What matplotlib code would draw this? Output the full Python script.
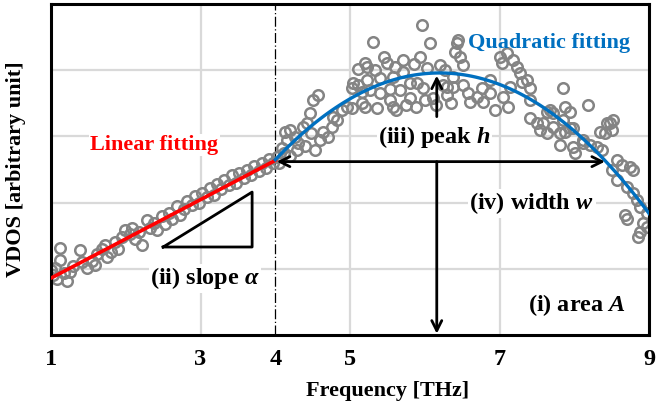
import matplotlib
matplotlib.use("Agg")
import matplotlib.pyplot as plt
import numpy as np

# 字型設定
plt.rcParams["font.family"] = ["Liberation Serif", "DejaVu Serif"]
plt.rcParams["font.weight"] = "bold"
plt.rcParams["axes.labelweight"] = "bold"
plt.rcParams["mathtext.fontset"] = "custom"
plt.rcParams["mathtext.bfit"] = "Liberation Serif:bold:italic"
plt.rcParams["mathtext.it"] = "Liberation Serif:bold:italic"
plt.rcParams["mathtext.rm"] = "Liberation Serif:bold"

# 線性區的散點 (1~4 THz)
lin_x = [1.00, 1.02, 1.05, 1.08, 1.12, 1.12, 1.18, 1.22, 1.25, 1.30, 1.39, 1.42,
         1.48, 1.55, 1.59, 1.62, 1.68, 1.72, 1.75, 1.80, 1.85, 1.90, 1.95, 1.99,
         2.05, 2.08, 2.12, 2.18, 2.22, 2.28, 2.32, 2.38, 2.42, 2.48, 2.52, 2.58,
         2.62, 2.68, 2.72, 2.78, 2.82, 2.88, 2.92, 2.98, 3.02, 3.08, 3.12, 3.18,
         3.22, 3.28, 3.32, 3.38, 3.42, 3.48, 3.52, 3.58, 3.62, 3.68, 3.72, 3.78,
         3.82, 3.88, 3.92, 3.97]
lin_y = [0.98, 0.90, 1.02, 0.84, 1.31, 1.14, 0.93, 0.82, 0.95, 1.05, 1.28, 1.10,
         1.02, 1.12, 1.06, 1.22, 1.30, 1.36, 1.18, 1.25, 1.40, 1.30, 1.48, 1.59,
         1.52, 1.62, 1.45, 1.55, 1.36, 1.74, 1.62, 1.70, 1.58, 1.80, 1.68, 1.85,
         1.75, 1.95, 1.82, 1.90, 2.02, 1.96, 2.10, 2.00, 2.15, 2.08, 2.22, 2.12,
         2.28, 2.20, 2.35, 2.26, 2.42, 2.30, 2.45, 2.38, 2.50, 2.42, 2.56, 2.48,
         2.60, 2.52, 2.66, 2.60]

# 二次區的散點 (4~9 THz)
quad_x = [4.02, 4.09, 4.13, 4.16, 4.20, 4.26, 4.29, 4.37, 4.42, 4.46, 4.50, 4.57,
          4.53, 4.60, 4.64, 4.71, 4.76, 4.77, 4.82, 4.89, 4.96, 5.03, 5.04, 5.11,
          5.16, 5.20, 5.23, 5.03, 4.05, 4.12, 4.20, 4.30, 4.40, 4.48,
          5.96, 5.31, 6.07, 5.20, 5.33, 5.49, 5.71, 5.94, 6.03, 6.20, 6.27, 5.23,
          5.40, 5.58, 5.71, 5.80, 5.90, 5.27, 5.40, 5.53, 5.67, 5.80, 5.98, 6.11,
          6.24, 6.30, 5.16, 5.36, 5.58, 5.53, 5.62, 5.75, 5.88, 6.00, 6.15, 6.30,
          6.35, 5.10, 5.45, 5.60, 5.85, 6.44,
          6.43, 6.40, 6.47, 6.51, 6.38, 6.38, 6.51, 6.58, 6.61, 6.70, 6.77, 6.78,
          6.87, 6.87, 7.01, 7.03, 7.10, 7.18, 7.23, 7.27, 7.30, 7.37, 7.41, 7.05,
          7.11, 6.94, 7.41, 7.50, 7.54, 7.64, 7.14, 7.41, 7.68, 7.85, 7.94, 8.12,
          8.30, 8.44, 8.52, 7.85,
          8.18, 7.64, 7.72, 7.88, 7.94, 7.58, 7.72, 7.81, 7.88, 7.98, 8.48, 8.51,
          8.41, 8.34, 7.81, 7.98, 8.01, 8.12, 8.21, 8.37, 8.57, 8.64, 8.75, 8.79,
          8.51, 8.57, 8.71, 8.79, 8.84, 8.68, 8.71, 8.88, 8.97, 8.92, 8.88, 8.85,
          8.97]
quad_y = [2.69, 2.82, 3.07, 2.95, 3.10, 2.99, 2.79, 3.14, 3.20, 3.35, 3.55, 3.63,
          2.79, 2.95, 3.07, 2.99, 3.14, 3.29, 3.25, 3.40, 3.44, 3.73, 3.81, 3.78,
          3.67, 3.44, 4.05, 3.43, 2.60, 2.75, 2.70, 2.90, 2.85, 3.05,
          4.68, 4.43, 4.41, 4.11, 4.00, 4.11, 4.15, 4.20, 4.03, 4.08, 4.00, 3.85,
          3.88, 3.90, 3.97, 3.81, 3.81, 3.70, 3.66, 3.72, 3.70, 3.58, 3.73, 3.58,
          3.78, 3.75, 3.50, 3.43, 3.44, 3.55, 3.40, 3.48, 3.45, 3.55, 3.48, 3.62,
          3.50, 4.02, 4.20, 4.05, 4.10, 4.46,
          4.41, 4.27, 4.20, 4.08, 3.90, 3.75, 3.78, 3.66, 3.52, 3.60, 3.73, 3.52,
          3.66, 3.85, 4.20, 4.11, 4.26, 4.15, 4.05, 3.96, 3.82, 3.85, 3.73, 3.60,
          3.44, 3.40, 3.28, 3.20, 3.10, 3.05, 3.75, 3.55, 3.40, 3.25, 3.13, 2.95,
          2.84, 3.20, 3.25, 3.73,
          3.47, 3.37, 3.35, 3.44, 3.37, 3.20, 3.14, 3.05, 3.07, 3.13, 3.20, 3.10,
          3.05, 3.07, 2.87, 2.84, 2.75, 2.90, 2.87, 2.79, 2.64, 2.57, 2.54, 2.49,
          2.49, 2.34, 2.24, 2.15, 2.04, 1.81, 1.76, 1.93, 1.84, 1.69, 1.56, 1.48,
          1.63]

# 擬合參數
lin_a = 0.593      # 斜率
lin_b = 0.86       # x=1 時的值
quad_x0 = 6.2      # 峰位置
quad_h = 3.96      # 峰高
quad_k = 0.271     # 曲率

# 畫布設定
fig = plt.figure(figsize=(6.66, 4.05), dpi=100)
ax = fig.add_axes([0.0766, 0.1728, 0.898, 0.817])

ax.plot(lin_x + quad_x, lin_y + quad_y, "o", ms=7.6, mfc="none", mec="#848484",
        mew=1.8, zorder=2)

fx1 = np.linspace(1, 4, 50)
ax.plot(fx1, lin_b + lin_a * (fx1 - 1), color="#ff0000", lw=2.6, zorder=3)
fx2 = np.linspace(4, 9, 100)
ax.plot(fx2, quad_h - quad_k * (fx2 - quad_x0) ** 2, color="#0070c0", lw=2.4, zorder=3)

# x=4 的分界線
ax.axvline(4, color="black", lw=0.9, ls=(0, (8, 2, 1, 2)), zorder=1)

# 箭頭
arw = dict(arrowstyle="->", color="black", lw=2.0, mutation_scale=18,
           shrinkA=0, shrinkB=0)
ax.annotate("", xy=(4.02, 2.62), xytext=(8.41, 2.62),
            arrowprops=dict(arw, arrowstyle="<->"), zorder=5)
ax.annotate("", xy=(6.16, 0.02), xytext=(6.16, 2.62), arrowprops=arw, zorder=5)
ax.annotate("", xy=(6.16, 3.92), xytext=(6.16, 3.30), arrowprops=arw, zorder=5)

# 斜率三角形
ax.plot([2.50, 3.69, 3.69, 2.50], [1.33, 1.33, 2.16, 1.33], color="black", lw=2.0,
        zorder=4)

# 文字
box = dict(facecolor="white", edgecolor="none", pad=1)
fs = 16    # 彩色標籤
fb = 17.5  # 黑色標籤
ax.text(2.38, 2.87, "Linear fitting", color="#ff0000", fontsize=fs,
        ha="center", va="center", bbox=box, zorder=6)
ax.text(7.66, 4.41, "Quadratic fitting", color="#0070c0", fontsize=fs,
        ha="center", va="center", zorder=6)
ax.text(6.13, 2.99, r"(iii) peak $\mathbfit{h}$", fontsize=fb, ha="center",
        va="center", bbox=box, zorder=6)
ax.text(7.43, 1.99, r"(iv) width $\mathbfit{w}$", fontsize=fb, ha="center",
        va="center", bbox=box, zorder=6)
ax.text(3.06, 0.86, r"(ii) slope $\mathbfit{\alpha}$", fontsize=fb, ha="center",
        va="center", bbox=box, zorder=6)
ax.text(8.04, 0.45, r"(i) area $\mathbfit{A}$", fontsize=fb, ha="center",
        va="center", bbox=box, zorder=6)

ax.set_xlim(1, 9)
ax.set_ylim(0, 5)
ax.set_xticks([1, 3, 5, 7, 9])
ax.set_xticks([4], minor=True)
ax.set_xticklabels(["4"], minor=True)
ax.set_yticks([1, 2, 3, 4])
ax.set_yticklabels([])
ax.tick_params(which="both", length=0, labelsize=17.5, pad=10)
ax.grid(True, which="major", color="#d9d9d9", lw=1.6, zorder=0)
ax.set_axisbelow(True)
for s in ax.spines.values():
    s.set_linewidth(2.2)
    s.set_color("black")

ax.set_xlabel("Frequency [THz]", fontsize=16, labelpad=4)
ax.xaxis.set_label_coords(0.563, -0.14)
ax.set_ylabel("VDOS [arbitrary unit]", fontsize=16, labelpad=8)

plt.savefig("out.png", dpi=100)
